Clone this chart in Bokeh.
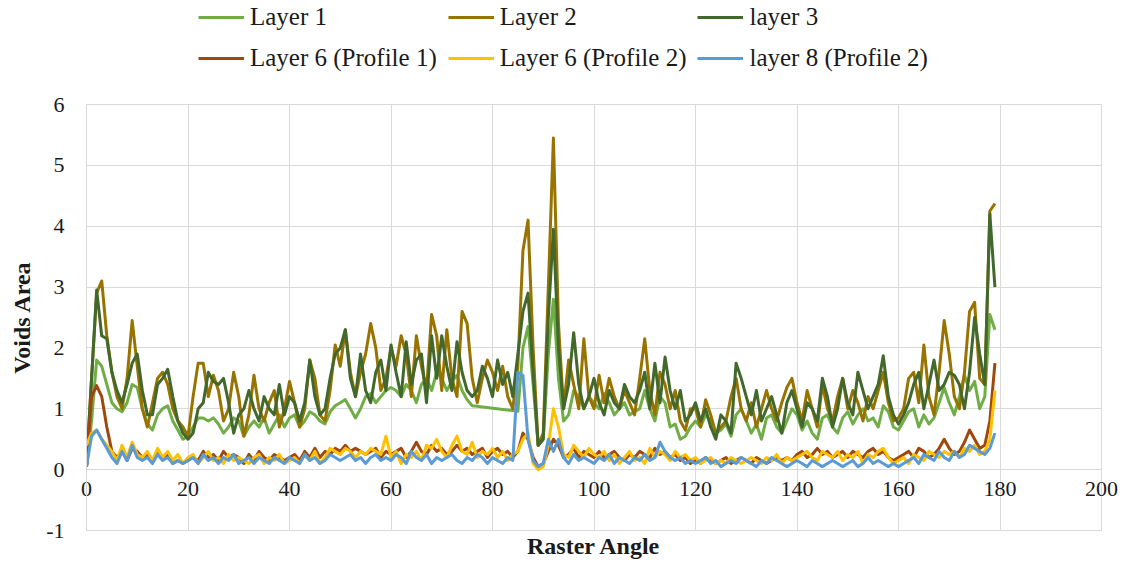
from bokeh.plotting import figure
from bokeh.layouts import column
from bokeh.models import (Legend, LegendItem, FixedTicker, Range1d, Title,
                          PrintfTickFormatter)
from bokeh.embed import file_html
from bokeh.resources import INLINE

angles = list(range(180))

layer1 = [
    0.05, 0.8, 1.8, 1.7, 1.4, 1.1, 1.0, 0.95, 1.1, 1.4,
    1.35, 1.0, 0.75, 0.65, 0.9, 1.0, 1.05, 0.8, 0.65, 0.5,
    0.55, 0.7, 0.85, 0.85, 0.8, 0.85, 0.75, 0.6, 0.7, 0.85,
    0.8, 0.55, 0.7, 0.8, 0.7, 0.85, 0.6, 0.75, 0.9, 0.7,
    0.85, 0.9, 0.7, 0.8, 0.95, 0.9, 0.8, 0.75, 0.95, 1.05,
    1.1, 1.15, 1.0, 0.85, 1.0, 1.2, 1.25, 1.1, 1.2, 1.3,
    1.35, 1.3, 1.2, 1.4, 1.3, 1.1, 1.4, 1.5, 1.3, 1.6,
    1.5, 1.3, 1.45, 1.55, 1.3, 1.15, 1.05, 1.04, 1.03, 1.02,
    1.01, 1.0, 0.99, 0.98, 0.97, 0.96, 2.0, 2.35, 1.4, 0.4,
    0.5, 1.9, 2.8, 1.5, 0.8, 0.9, 1.3, 1.2, 1.0, 1.2,
    1.1, 1.0, 1.25, 1.1, 0.9, 1.0, 1.1, 0.9, 0.95, 1.0,
    1.3, 1.0, 0.8, 1.2, 1.1, 0.7, 0.75, 0.5, 0.55, 0.7,
    0.8, 0.7, 0.9, 0.8, 0.6, 0.65, 0.75, 0.55, 0.9, 1.0,
    0.8, 0.6, 0.75, 0.5, 0.85, 0.9, 0.7, 0.6, 0.8, 1.0,
    0.9, 0.65, 0.8, 0.6, 0.5, 0.85, 0.9, 0.7, 0.6, 0.85,
    0.95, 0.75, 0.9, 1.0, 0.8, 0.85, 0.7, 1.05, 0.95, 0.7,
    0.65, 0.8, 0.95, 1.0, 0.7, 0.9, 0.75, 0.85, 1.1, 1.35,
    1.1, 0.9, 1.2, 1.55, 1.3, 1.45, 1.0, 1.2, 2.55, 2.3,
]

layer2 = [
    0.05, 1.5, 2.9, 3.1, 2.2, 1.6, 1.2, 1.0, 1.5, 2.45,
    1.7, 1.0, 0.7, 1.1, 1.5, 1.6, 1.4, 1.0, 0.8, 0.7,
    0.55, 1.2, 1.75, 1.75, 1.2, 1.55, 1.3, 0.8, 1.0, 1.6,
    1.2, 0.55, 0.9, 1.55, 1.0, 0.8, 1.1, 1.3, 0.7, 1.0,
    1.45, 1.1, 0.7, 1.0, 1.8, 1.5, 0.9, 0.8, 1.3, 2.05,
    1.7, 2.3, 1.6, 1.2, 1.6, 1.9, 2.4, 2.0, 1.3, 1.5,
    2.0, 1.7, 2.2, 1.9, 1.2, 2.2, 1.7, 1.3, 2.55, 2.2,
    1.3, 2.3, 1.5, 1.2, 2.6, 2.4, 1.5, 1.1, 1.5, 1.8,
    1.6, 1.3, 1.7, 1.2, 1.0, 1.7, 3.6, 4.1, 2.0, 0.4,
    0.6, 3.0, 5.45, 2.4, 1.0, 1.8, 1.4, 1.0, 2.15, 1.2,
    1.0, 1.55, 1.1, 1.5, 1.2, 1.0, 1.3, 1.1, 0.9, 1.5,
    2.15, 1.3, 0.9, 1.6, 1.4, 1.0, 1.3, 0.8, 0.65, 1.0,
    1.0, 0.7, 1.15, 0.9, 0.6, 0.7, 0.8, 1.2, 1.5, 1.0,
    0.8, 1.1, 0.7, 1.0, 1.3, 1.0, 0.8, 1.1, 1.35, 1.5,
    1.1, 0.8, 1.3, 1.0, 0.7, 1.4, 1.0, 0.8, 1.2, 1.5,
    1.0, 1.3, 1.1, 0.8, 1.2, 1.0, 1.3, 1.6, 1.1, 0.8,
    0.85, 1.0, 1.5, 1.6, 1.1, 2.05, 1.2, 0.9, 1.6, 2.45,
    1.9, 1.2, 1.0, 1.6, 2.6, 2.75, 1.5, 1.4, 4.25, 4.37,
]

layer3 = [
    0.05, 1.5, 2.95, 2.2, 2.15, 1.6, 1.3, 1.1, 1.4, 1.75,
    1.9, 1.3, 0.9, 0.9, 1.4, 1.5, 1.65, 1.2, 0.8, 0.6,
    0.5, 0.6, 1.0, 1.1, 1.6, 1.45, 1.4, 1.5, 1.1, 0.6,
    0.9, 1.0, 1.3, 1.0, 0.8, 1.2, 1.0, 0.9, 1.4, 0.9,
    1.2, 1.1, 0.8, 1.1, 1.8, 1.2, 0.9, 1.0, 1.5, 1.9,
    2.0, 2.3, 1.5, 1.2, 1.9, 1.3, 1.1, 1.6, 1.8, 1.3,
    2.05, 1.6, 1.2, 2.1, 1.4, 1.8, 1.9, 1.1, 2.2, 1.5,
    2.2, 1.7, 1.3, 2.1, 1.6, 1.3, 1.2, 1.3, 1.7, 1.5,
    1.2, 1.8, 1.4, 1.6, 1.2, 1.9, 2.6, 2.9, 1.6, 0.4,
    0.5, 2.5, 3.95, 2.0, 1.0, 1.4, 2.25, 1.4, 1.0, 1.2,
    1.5, 1.1, 0.9, 1.3, 1.1, 1.0, 1.4, 1.2, 1.1, 1.3,
    1.6, 1.0, 1.75, 1.1, 1.85, 1.3, 1.0, 1.3, 0.8, 0.9,
    1.1, 0.8, 1.0, 0.7, 0.5, 0.9, 0.8, 0.6, 1.75, 1.5,
    1.2, 0.9, 1.3, 0.8, 1.0, 1.2, 0.9, 0.6, 1.1, 1.3,
    1.0, 0.7, 1.1, 1.0, 0.8, 1.5, 1.2, 0.7, 1.0, 1.5,
    1.1, 0.9, 1.6, 1.3, 1.0, 1.2, 1.4, 1.87, 1.2, 0.9,
    0.75, 0.9, 1.1, 1.4, 1.6, 1.0, 1.4, 1.8, 1.3, 1.4,
    1.6, 1.55, 1.4, 1.0, 1.6, 2.5, 1.9, 1.4, 4.2, 3.0,
]

layer6_p1 = [
    0.05, 1.2, 1.38, 1.2, 0.7, 0.3, 0.2, 0.3, 0.15, 0.35,
    0.3, 0.2, 0.25, 0.15, 0.3, 0.2, 0.25, 0.1, 0.15, 0.1,
    0.15, 0.2, 0.15, 0.3, 0.2, 0.25, 0.15, 0.3, 0.2, 0.25,
    0.2, 0.1, 0.25, 0.15, 0.3, 0.2, 0.15, 0.25, 0.2, 0.15,
    0.2, 0.25, 0.15, 0.3, 0.2, 0.35, 0.2, 0.3, 0.25, 0.35,
    0.3, 0.4, 0.3, 0.35, 0.3, 0.25, 0.3, 0.35, 0.2, 0.3,
    0.25, 0.3, 0.35, 0.2, 0.3, 0.45, 0.3, 0.25, 0.4, 0.3,
    0.35, 0.25, 0.3, 0.4, 0.3, 0.35, 0.25, 0.3, 0.35, 0.2,
    0.3, 0.35, 0.25, 0.3, 0.2, 0.3, 0.6, 0.5, 0.2, 0.05,
    0.1, 0.3, 0.5, 0.4, 0.2, 0.25, 0.35, 0.2, 0.3, 0.25,
    0.2, 0.3, 0.2, 0.25, 0.3, 0.2, 0.15, 0.25, 0.2, 0.3,
    0.25, 0.2, 0.35, 0.25, 0.3, 0.2, 0.25, 0.15, 0.2, 0.1,
    0.15, 0.1, 0.2, 0.15, 0.1, 0.15, 0.2, 0.1, 0.15, 0.2,
    0.15, 0.1, 0.2, 0.15, 0.1, 0.15, 0.2, 0.15, 0.2, 0.15,
    0.25, 0.3, 0.2, 0.25, 0.35, 0.25, 0.3, 0.2, 0.25, 0.3,
    0.2, 0.3, 0.25, 0.2, 0.3, 0.35, 0.25, 0.3, 0.2, 0.15,
    0.2, 0.25, 0.3, 0.2, 0.35, 0.3, 0.2, 0.25, 0.35, 0.5,
    0.35, 0.25, 0.3, 0.45, 0.65, 0.5, 0.35, 0.4, 0.8, 1.75,
]

layer6_p2 = [
    0.4, 0.6, 0.65, 0.5, 0.4, 0.3, 0.15, 0.4, 0.2, 0.45,
    0.25, 0.2, 0.3, 0.15, 0.35, 0.2, 0.3, 0.15, 0.25, 0.1,
    0.2, 0.25, 0.1, 0.2, 0.3, 0.15, 0.2, 0.1, 0.25, 0.15,
    0.2, 0.15, 0.1, 0.2, 0.25, 0.1, 0.2, 0.15, 0.25, 0.1,
    0.15, 0.2, 0.1, 0.25, 0.15, 0.3, 0.1, 0.2, 0.35, 0.3,
    0.25, 0.35, 0.3, 0.2, 0.3, 0.25, 0.35, 0.3, 0.25, 0.55,
    0.2, 0.3, 0.1, 0.25, 0.2, 0.3, 0.15, 0.4, 0.35, 0.5,
    0.3, 0.2, 0.4, 0.55, 0.3, 0.25, 0.45, 0.2, 0.3, 0.25,
    0.35, 0.2, 0.3, 0.15, 0.25, 0.3, 0.5, 0.6, 0.1, 0.0,
    0.05, 0.4, 1.0, 0.7, 0.25, 0.2, 0.4, 0.3, 0.2, 0.35,
    0.25, 0.2, 0.3, 0.15, 0.25, 0.1, 0.2, 0.3, 0.15, 0.2,
    0.1, 0.35, 0.2, 0.3, 0.25, 0.15, 0.3, 0.2, 0.25, 0.15,
    0.2, 0.1, 0.15, 0.2, 0.1, 0.15, 0.1, 0.2, 0.15, 0.1,
    0.15, 0.2, 0.15, 0.1, 0.2, 0.15, 0.25, 0.1, 0.2, 0.15,
    0.2, 0.25, 0.3, 0.2, 0.15, 0.3, 0.25, 0.2, 0.3, 0.15,
    0.25, 0.2, 0.3, 0.1, 0.25, 0.2, 0.3, 0.35, 0.2, 0.1,
    0.15, 0.2, 0.1, 0.25, 0.2, 0.15, 0.3, 0.25, 0.2, 0.3,
    0.25, 0.3, 0.2, 0.35, 0.3, 0.4, 0.25, 0.3, 0.5, 1.3,
]

layer8_p2 = [
    0.05, 0.55, 0.65, 0.5, 0.35, 0.2, 0.1, 0.3, 0.15, 0.4,
    0.2, 0.15, 0.2, 0.1, 0.25, 0.15, 0.2, 0.1, 0.15, 0.1,
    0.15, 0.2, 0.1, 0.25, 0.15, 0.2, 0.1, 0.2, 0.15, 0.25,
    0.1, 0.15, 0.2, 0.1, 0.2, 0.15, 0.1, 0.2, 0.15, 0.1,
    0.2, 0.15, 0.1, 0.25, 0.15, 0.2, 0.1, 0.15, 0.25, 0.2,
    0.15, 0.2, 0.25, 0.15, 0.2, 0.1, 0.2, 0.25, 0.15, 0.2,
    0.15, 0.25, 0.2, 0.1, 0.3, 0.2, 0.15, 0.25, 0.1, 0.2,
    0.15, 0.2, 0.25, 0.15, 0.1, 0.2, 0.15, 0.25, 0.2, 0.1,
    0.2, 0.15, 0.1, 0.2, 0.15, 1.6, 1.55, 0.5, 0.15, 0.05,
    0.1, 0.5, 0.3, 0.5, 0.2, 0.1, 0.25, 0.15, 0.2, 0.15,
    0.1, 0.2, 0.15, 0.25, 0.1, 0.2, 0.15, 0.1, 0.2, 0.15,
    0.25, 0.15, 0.2, 0.45, 0.3, 0.2, 0.15, 0.2, 0.1, 0.15,
    0.1, 0.15, 0.2, 0.1, 0.15, 0.05, 0.1, 0.15, 0.1, 0.2,
    0.15, 0.1, 0.05, 0.15, 0.1, 0.2, 0.15, 0.1, 0.05, 0.1,
    0.15, 0.1, 0.05, 0.15, 0.1, 0.05, 0.1, 0.15, 0.1, 0.05,
    0.1, 0.15, 0.05, 0.1, 0.2, 0.1, 0.15, 0.1, 0.05, 0.1,
    0.05, 0.1, 0.15, 0.2, 0.1, 0.25, 0.2, 0.15, 0.3, 0.2,
    0.15, 0.3, 0.2, 0.25, 0.4, 0.35, 0.3, 0.25, 0.35, 0.6,
]

series_names = ["Layer 1", "Layer 2", "layer 3",
                "Layer 6 (Profile 1)", "Layer 6 (Profile 2)", "layer 8 (Profile 2)"]
series_values = [layer1, layer2, layer3, layer6_p1, layer6_p2, layer8_p2]
series_colors = ["#70AD47", "#997300", "#43682B", "#9E480E", "#FFC000", "#5B9BD5"]

x_ticks = [0, 20, 40, 60, 80, 100, 120, 140, 160, 180, 200]
y_ticks = [-1, 0, 1, 2, 3, 4, 5, 6]

FONT = "Liberation Serif"
GRID = "#D9D9D9"
TXT = "#1a1a1a"

W = 1128
TOTAL_H = 562
LEG_FIG_H = 80
MAIN_H = TOTAL_H - LEG_FIG_H
TOP, BOTTOM, LEFT, RIGHT = 104 - LEG_FIG_H, TOTAL_H - 530, 86, W - 1101

# ---------------- main chart ----------------
p = figure(width=W, height=MAIN_H,
           x_range=Range1d(0, 200), y_range=Range1d(-1, 6),
           output_backend="svg", toolbar_location=None,
           min_border_left=LEFT, min_border_right=RIGHT,
           min_border_top=TOP, min_border_bottom=BOTTOM)
p.background_fill_color = "white"
p.border_fill_color = "white"
p.outline_line_color = GRID

p.xaxis.ticker = FixedTicker(ticks=x_ticks)
p.yaxis.ticker = FixedTicker(ticks=y_ticks)
p.yaxis.formatter = PrintfTickFormatter(format="%d")
p.xaxis.formatter = PrintfTickFormatter(format="%d")
p.xgrid.grid_line_color = GRID
p.ygrid.grid_line_color = GRID

for ax in (p.xaxis[0], p.yaxis[0]):
    ax.axis_line_color = GRID
    ax.major_tick_line_color = None
    ax.minor_tick_line_color = None
    ax.major_label_text_font = FONT
    ax.major_label_text_font_size = "22px"
    ax.major_label_text_color = TXT

# x labels sit just under the y = 0 line, as in the original
p.xaxis.major_label_standoff = -55
p.yaxis.major_label_standoff = 16

p.yaxis.axis_label = "Voids Area"
p.yaxis.axis_label_text_font = FONT
p.yaxis.axis_label_text_font_size = "24px"
p.yaxis.axis_label_text_font_style = "bold"
p.yaxis.axis_label_text_color = TXT
p.yaxis.axis_label_standoff = 8

p.add_layout(Title(text="Raster Angle", align="center", text_font=FONT,
                   text_font_size="24px", text_font_style="bold",
                   text_color=TXT, standoff=0), "below")

for vals, col in zip(series_values, series_colors):
    p.line(angles, vals, line_color=col, line_width=3, line_join="round")

# ---------------- legend strip ----------------
# the strip repeats each series far outside its visible range, only to feed the legend
lg = figure(width=W, height=LEG_FIG_H, x_range=Range1d(1000, 1001), y_range=Range1d(0, 1),
            output_backend="svg", toolbar_location=None,
            x_axis_location=None, y_axis_location=None,
            min_border=0, min_border_left=LEFT, min_border_right=RIGHT,
            min_border_top=0, min_border_bottom=0)
lg.grid.visible = False
lg.outline_line_color = None
lg.background_fill_color = "white"
lg.border_fill_color = "white"

items = []
for name, vals, col in zip(series_names, series_values, series_colors):
    r = lg.line(angles, vals, line_color=col, line_width=3)
    items.append(LegendItem(label=name, renderers=[r]))

SPACING = 11
legend = Legend(items=items, orientation="horizontal", ncols=3,
                location=(112, 7),
                label_text_font=FONT, label_text_font_size="25px",
                label_text_color=TXT,
                glyph_width=46, glyph_height=20, label_height=30,
                label_width=248 - 46 - 6 - SPACING, label_standoff=6,
                spacing=SPACING, padding=0, margin=0,
                background_fill_alpha=0, border_line_alpha=0)
lg.add_layout(legend)

layout = column(lg, p, spacing=0)
open("out.html", "w").write(file_html(layout, INLINE))
